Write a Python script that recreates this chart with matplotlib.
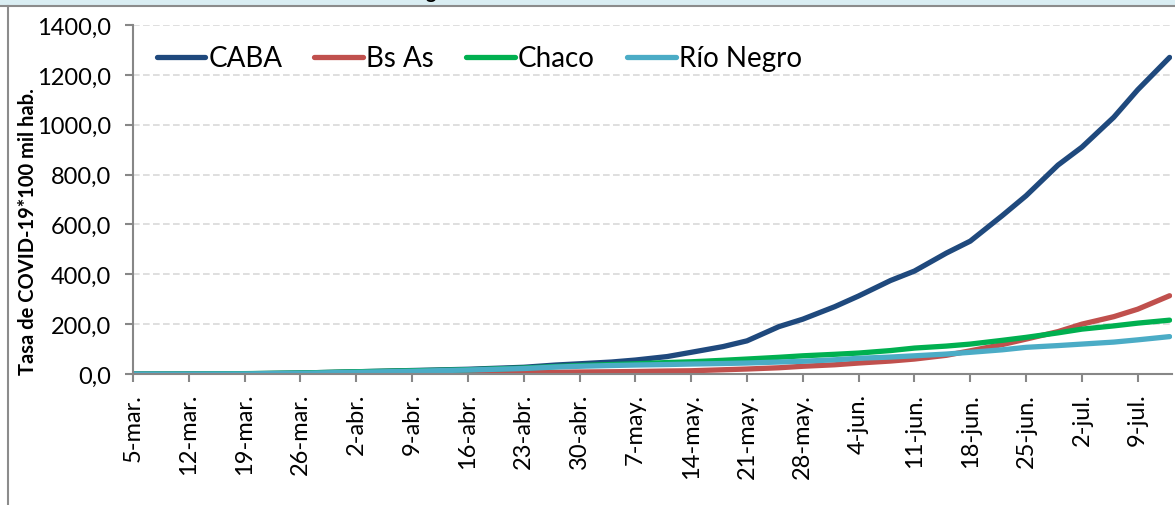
import matplotlib
matplotlib.use("Agg")
import matplotlib.pyplot as plt
from matplotlib.lines import Line2D
from matplotlib.patches import Rectangle

# ---- data (days since 5-mar) ----
days = [0, 7, 14, 21, 28, 35, 42, 49, 53, 56, 60, 63, 67, 70, 74, 77, 81, 84,
        88, 91, 95, 98, 102, 105, 109, 112, 116, 119, 123, 126, 130]
caba = [0, 0.3, 1, 4, 9, 14, 19, 27, 36, 41, 48, 56, 70, 87, 110, 133, 190, 220,
        270, 313, 375, 413, 485, 533, 635, 715, 838, 910, 1030, 1140, 1270]
bsas = [0, 0, 0, 0.5, 1, 2, 3, 5, 7, 8, 9, 10, 12, 13, 17, 20, 25, 31,
        37, 44, 52, 60, 75, 93, 118, 140, 170, 200, 230, 260, 314]
chaco = [0, 0.3, 1.5, 4, 9, 13, 17, 24, 30, 34, 38, 41, 46, 49, 55, 60, 67, 73,
         79, 84, 94, 104, 112, 120, 135, 147, 165, 180, 193, 204, 216]
rionegro = [0, 0, 0.5, 3, 7, 11, 16, 22, 28, 31, 34, 36, 38, 40, 42, 44, 48, 51,
            57, 63, 68, 73, 80, 87, 97, 107, 114, 120, 128, 137, 150]

series_names = ["CABA", "Bs As", "Chaco", "Río Negro"]
series_colors = ["#1f497d", "#c0504d", "#00b050", "#4bacc6"]

tick_days = [0, 7, 14, 21, 28, 35, 42, 49, 56, 63, 70, 77, 84, 91, 98, 105, 112, 119, 126]
tick_labels = ["5-mar.", "12-mar.", "19-mar.", "26-mar.", "2-abr.", "9-abr.", "16-abr.",
               "23-abr.", "30-abr.", "7-may.", "14-may.", "21-may.", "28-may.", "4-jun.",
               "11-jun.", "18-jun.", "25-jun.", "2-jul.", "9-jul."]
y_ticks = [0, 200, 400, 600, 800, 1000, 1200, 1400]

plt.rcParams['font.family'] = ['Lato', 'DejaVu Sans']

W, H = 1175, 506
fig = plt.figure(figsize=(W / 100, H / 100), dpi=100)
fig.patch.set_facecolor("white")

# outer frame pieces (cropped screenshot)
fig.patches.append(Rectangle((0, 1 - 6 / H), 1, 6 / H, transform=fig.transFigure,
                             facecolor="#daeef3", edgecolor="none", zorder=0))
fig.lines.append(Line2D([0, 1], [1 - 6.5 / H, 1 - 6.5 / H], transform=fig.transFigure,
                        color="#8c8c8c", lw=1.5))
fig.lines.append(Line2D([7.5 / W, 7.5 / W], [0, 1 - 6.5 / H], transform=fig.transFigure,
                        color="#8c8c8c", lw=1.5))
fig.text(410 / W, 1 + 1 / H, "Figura 4: Evolución de la tasa de COVID-19 en CABA",
         ha="left", va="baseline", fontsize=14, fontweight="bold", color="black")

left, right = 133 / W, 1172 / W
bottom, top = 1 - 375 / H, 1 - 26 / H
ax = fig.add_axes([left, bottom, right - left, top - bottom])

data = [caba, bsas, chaco, rionegro]
for name, vals, col in zip(series_names, data, series_colors):
    ax.plot(days, vals, color=col, lw=3.8, solid_capstyle="round",
            solid_joinstyle="round", label=name)

ax.set_xlim(0, 130.3)
ax.set_ylim(0, 1400)
ax.set_yticks(y_ticks)
ax.set_yticklabels([f"{v:.1f}".replace(".", ",") for v in y_ticks], fontsize=17)
ax.set_xticks(tick_days)
ax.set_xticklabels(tick_labels, rotation=90, fontsize=17)

ax.grid(axis="y", color="#d9d9d9", linestyle=(0, (4, 2)), lw=1.2)
ax.set_axisbelow(True)
for s in ["top", "right"]:
    ax.spines[s].set_visible(False)
for s in ["left", "bottom"]:
    ax.spines[s].set_color("#878787")
    ax.spines[s].set_linewidth(1.5)
ax.tick_params(axis="both", direction="out", length=5.5, width=1.5, color="#878787")
ax.tick_params(axis="y", pad=10)
ax.tick_params(axis="x", pad=8)

ax.set_ylabel("Tasa de COVID-19*100 mil hab.", fontsize=14.5, fontweight="bold")
ax.yaxis.set_label_coords(-95 / (1172 - 133), (375 - 232) / 349)

leg = ax.legend(loc="upper left", bbox_to_anchor=(0.004, 0.997), ncol=4, frameon=False,
                fontsize=20, handlelength=1.75, handletextpad=0.12, columnspacing=1.15,
                borderaxespad=0.3)
for lh in leg.get_lines():
    lh.set_linewidth(3.8)

fig.savefig("out.png", dpi=100)
